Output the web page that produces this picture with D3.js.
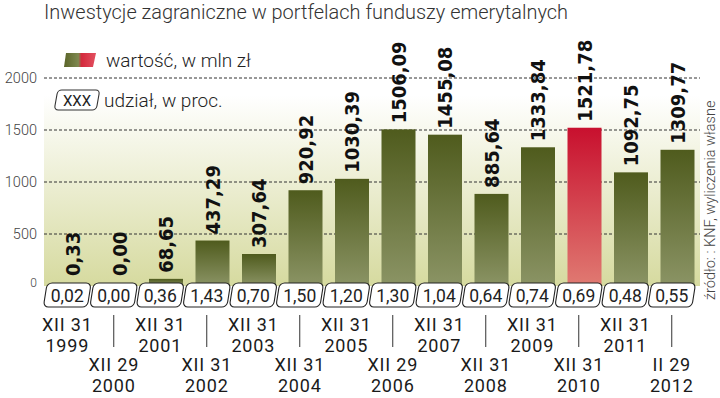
<!DOCTYPE html>
<html>
<head>
<meta charset="utf-8">
<script src="https://cdn.jsdelivr.net/npm/d3@7"></script>
<style>
  body { margin: 0; background: #fff; }
  svg { display: block; font-family: Roboto, sans-serif; }
</style>
</head>
<body>
<svg id="chart" width="720" height="398"></svg>
<script>
// data
var dates = ["XII 31|1999", "XII 29|2000", "XII 31|2001", "XII 31|2002", "XII 31|2003",
             "XII 31|2004", "XII 31|2005", "XII 29|2006", "XII 31|2007", "XII 31|2008",
             "XII 31|2009", "XII 31|2010", "XII 31|2011", "II 29|2012"];
var values = [0.33, 0.00, 68.65, 437.29, 307.64, 920.92, 1030.39, 1506.09, 1455.08,
              885.64, 1333.84, 1521.78, 1092.75, 1309.77];
var shares = [0.02, 0.00, 0.36, 1.43, 0.70, 1.50, 1.20, 1.30, 1.04, 0.64, 0.74, 0.69, 0.48, 0.55];
var yTicks = [0, 500, 1000, 1500, 2000];
var highlight = "XII 31|2010";

var fmt = function(v) { return v.toFixed(2).replace(".", ","); };

var svg = d3.select("#chart");
var defs = svg.append("defs");

// gradients
var bg = defs.append("linearGradient").attr("id", "bg").attr("x1", 0).attr("x2", 0).attr("y1", 0).attr("y2", 1);
bg.append("stop").attr("offset", "0%").attr("stop-color", "#ffffff");
bg.append("stop").attr("offset", "100%").attr("stop-color", "#d6da9f");

var green = defs.append("linearGradient").attr("id", "green").attr("x1", 0).attr("x2", 0).attr("y1", 0).attr("y2", 1);
green.append("stop").attr("offset", "0%").attr("stop-color", "#4f5b1d");
green.append("stop").attr("offset", "100%").attr("stop-color", "#8b9465");

var red = defs.append("linearGradient").attr("id", "red").attr("x1", 0).attr("x2", 0).attr("y1", 0).attr("y2", 1);
red.append("stop").attr("offset", "0%").attr("stop-color", "#c8102e");
red.append("stop").attr("offset", "100%").attr("stop-color", "#e07a72");

var legendGrad = defs.append("linearGradient").attr("id", "lg");
legendGrad.append("stop").attr("offset", "0%").attr("stop-color", "#5a6428");
legendGrad.append("stop").attr("offset", "45%").attr("stop-color", "#7e8850");
legendGrad.append("stop").attr("offset", "55%").attr("stop-color", "#d42a3c");
legendGrad.append("stop").attr("offset", "100%").attr("stop-color", "#e25060");

// scales
var x = d3.scaleBand().domain(dates).range([44, 695]).paddingInner(0);
var y = d3.scaleLinear().domain([0, 2000]).range([286, 78]);
var barOff = 12, barW = 34;

// panel
svg.append("rect")
    .attr("x", 44).attr("y", 95)
    .attr("width", 656).attr("height", y(0) - 95)
    .attr("fill", "url(#bg)");

// title
svg.append("text")
    .attr("x", 44).attr("y", 19)
    .attr("font-size", 20).attr("font-weight", 300).attr("fill", "#333")
    .attr("textLength", 524).attr("lengthAdjust", "spacingAndGlyphs")
    .text("Inwestycje zagraniczne w portfelach funduszy emerytalnych");

// gridlines + y labels
var grid = svg.append("g");
grid.selectAll("line").data(yTicks.filter(function(d) { return d > 0; })).enter()
    .append("line")
    .attr("x1", 44).attr("x2", 700)
    .attr("y1", function(d) { return y(d); }).attr("y2", function(d) { return y(d); })
    .attr("stroke", "#333").attr("stroke-width", 1).attr("stroke-dasharray", "3,2");

svg.append("g").selectAll("text").data(yTicks).enter()
    .append("text")
    .attr("x", 37).attr("y", function(d) { return d === 0 ? y(d) + 1 : y(d) + 5; })
    .attr("text-anchor", "end")
    .attr("font-size", function(d) { return d === 0 ? 12 : 14.5; })
    .attr("font-weight", 300)
    .attr("fill", "#444")
    .text(function(d) { return d; });

// legend
svg.append("path")
    .attr("d", "M66,53 L96,53 L93,67 L64,67 Z")
    .attr("fill", "url(#lg)");
svg.append("text")
    .attr("x", 106).attr("y", 67)
    .attr("font-size", 19).attr("font-weight", 300).attr("fill", "#222")
    .text("wartość, w mln zł");
svg.append("rect")
    .attr("x", -21).attr("y", -10).attr("width", 42).attr("height", 20).attr("rx", 4)
    .attr("transform", "translate(77,100) skewX(-10)")
    .attr("fill", "#fff").attr("stroke", "#333").attr("stroke-width", 1.1);
svg.append("text")
    .attr("x", 77).attr("y", 106).attr("text-anchor", "middle")
    .attr("font-size", 15).attr("fill", "#222")
    .text("XXX");
svg.append("text")
    .attr("x", 104).attr("y", 107)
    .attr("font-size", 19).attr("font-weight", 300).attr("fill", "#222")
    .text("udział, w proc.");

// bars
svg.append("g").selectAll("rect").data(dates).enter()
    .append("rect")
    .attr("x", function(d) { return x(d) + barOff; })
    .attr("y", function(d, i) { return y(values[i]); })
    .attr("width", barW)
    .attr("height", function(d, i) { return y(0) - y(values[i]); })
    .attr("fill", function(d) { return d === highlight ? "url(#red)" : "url(#green)"; });

// value labels
svg.append("g").selectAll("text").data(dates).enter()
    .append("text")
    .attr("transform", function(d, i) {
        var cx = x(d) + barOff + barW / 2 + 7;
        var ty = Math.min(y(values[i]), y(0) - 4) - 6;
        return "translate(" + cx + "," + ty + ") rotate(-90)";
    })
    .attr("font-family", "'DejaVu Sans Condensed', 'DejaVu Sans', sans-serif")
    .attr("font-weight", "bold")
    .attr("font-size", 20)
    .attr("fill", "#111")
    .text(function(d, i) { return fmt(values[i]); });

// share boxes
var boxes = svg.append("g").selectAll("g").data(dates).enter()
    .append("g")
    .attr("transform", function(d) { return "translate(" + (x(d) + x.bandwidth() / 2) + ",295)"; });
boxes.append("rect")
    .attr("x", -22).attr("y", -12).attr("width", 44).attr("height", 24).attr("rx", 5)
    .attr("transform", "skewX(-9)")
    .attr("fill", "#fff").attr("stroke", "#222").attr("stroke-width", 1.1);
boxes.append("text")
    .attr("y", 7).attr("text-anchor", "middle")
    .attr("font-size", 17.5).attr("fill", "#222")
    .text(function(d, i) { return fmt(shares[i]); });

// x labels: odd in upper row, even in lower row
var xl = svg.append("g").selectAll("g").data(dates).enter()
    .append("g")
    .attr("transform", function(d, i) {
        return "translate(" + (x(d) + x.bandwidth() / 2) + "," + (i % 2 === 0 ? 331 : 371) + ")";
    });
xl.append("text").attr("text-anchor", "middle").attr("font-size", 18)
    .attr("letter-spacing", 0.8).attr("fill", "#1a1a1a")
    .text(function(d) { return d.split("|")[0]; });
xl.append("text").attr("y", 21).attr("text-anchor", "middle").attr("font-size", 18)
    .attr("letter-spacing", 0.8).attr("fill", "#1a1a1a")
    .text(function(d) { return d.split("|")[1]; });

// tick lines for lower-row labels
svg.append("g").selectAll("line").data(dates.filter(function(d, i) { return i % 2 === 1; })).enter()
    .append("line")
    .attr("x1", function(d) { return x(d) + x.bandwidth() / 2; })
    .attr("x2", function(d) { return x(d) + x.bandwidth() / 2; })
    .attr("y1", 315).attr("y2", 347)
    .attr("stroke", "#333").attr("stroke-width", 1);

// source
svg.append("text")
    .attr("transform", "translate(715,300) rotate(-90)")
    .attr("font-size", 14.5).attr("font-weight", 300).attr("fill", "#444")
    .text("źródło: : KNF, wyliczenia własne");
</script>
</body>
</html>
